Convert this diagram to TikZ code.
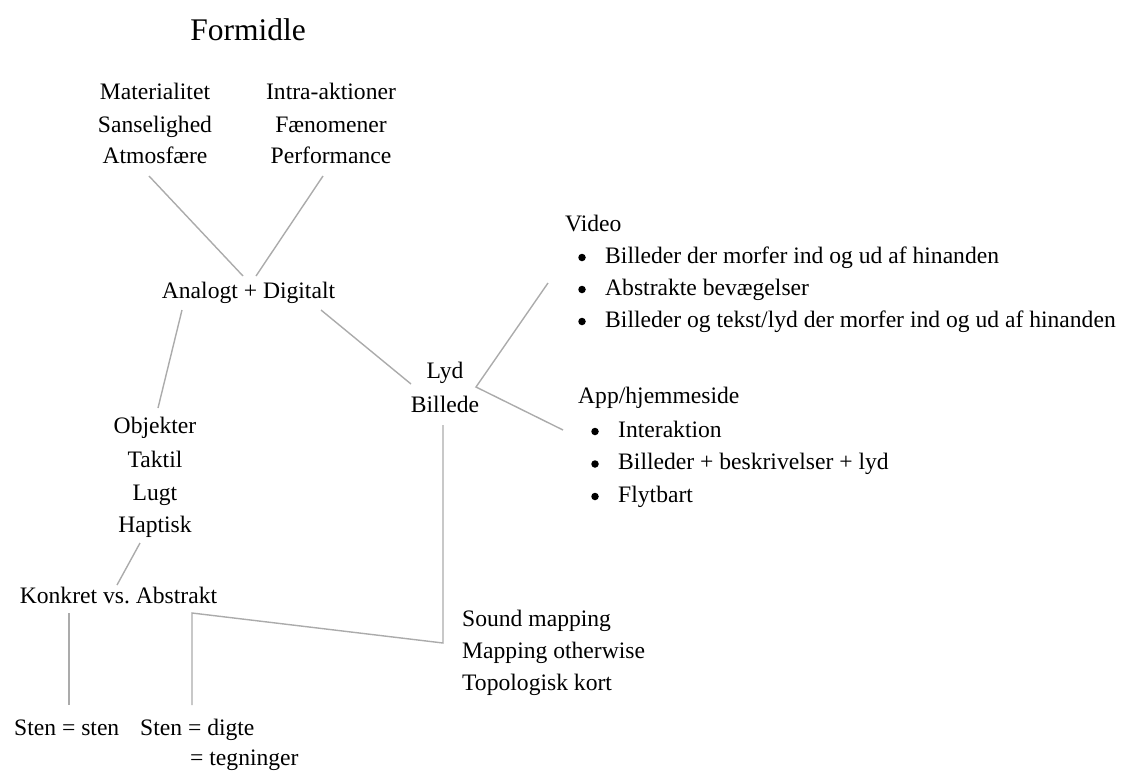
\documentclass[tikz,border=0pt]{standalone}
\usepackage{fontspec}
\setmainfont{Liberation Serif}
\frenchspacing
\begin{document}
\begin{tikzpicture}[x=1pt,y=-1pt,
  txt/.style={anchor=base,inner sep=0pt,font=\fontsize{23.6}{32}\selectfont},
  ltxt/.style={txt,anchor=base west},
  bigtxt/.style={txt,font=\fontsize{31.5}{36}\selectfont},
  dot/.style={circle,fill=black,inner sep=0pt,minimum size=7.5pt},
  link/.style={draw=black!33,line width=1.4pt}]
\useasboundingbox (0,0) rectangle (1126,774);
% title
\node[bigtxt] (title) at (248,40) {Formidle};
% top blocks
\node[txt] (m1) at (155,99) {Materialitet};
\node[txt] (m2) at (155,132) {Sanselighed};
\node[txt] (m3) at (155,163) {Atmosfære};
\node[txt] (i1) at (331,99) {Intra-aktioner};
\node[txt] (i2) at (331,132) {Fænomener};
\node[txt] (i3) at (331,163) {Performance};
% centre
\node[txt] (ad) at (248.5,298) {Analogt + Digitalt};
\node[txt] (lyd) at (445,378) {Lyd};
\node[txt] (bil) at (445,412) {Billede};
% left column
\node[txt] (o1) at (155,433) {Objekter};
\node[txt] (o2) at (155,467) {Taktil};
\node[txt] (o3) at (155,500) {Lugt};
\node[txt] (o4) at (155,532) {Haptisk};
\node[txt] (kon) at (118.5,603) {Konkret vs. Abstrakt};
\node[ltxt] (s1) at (14,735) {Sten = sten};
\node[ltxt] (s2) at (140,735) {Sten = digte};
\node[ltxt] (s3) at (190,765) {= tegninger};
% mapping
\node[ltxt] (sm1) at (462,626) {Sound mapping};
\node[ltxt] (sm2) at (462,658) {Mapping otherwise};
\node[ltxt] (sm3) at (462,690) {Topologisk kort};
% video
\node[ltxt] (vid) at (565,231) {Video};
\node[dot] (vb1) at (582,257.5) {};
\node[dot] (vb2) at (582,289.5) {};
\node[dot] (vb3) at (582,321.5) {};
\node[ltxt] (v1) at (605,263) {Billeder der morfer ind og ud af hinanden};
\node[ltxt] (v2) at (605,295) {Abstrakte bevægelser};
\node[ltxt] (v3) at (605,327) {Billeder og tekst/lyd der morfer ind og ud af hinanden};
% app
\node[ltxt] (app) at (578,403) {App/hjemmeside};
\node[dot] (ab1) at (595,431.5) {};
\node[dot] (ab2) at (595,464) {};
\node[dot] (ab3) at (595,496.5) {};
\node[ltxt] (a1) at (618,437) {Interaktion};
\node[ltxt] (a2) at (618,469.5) {Billeder + beskrivelser + lyd};
\node[ltxt] (a3) at (618,502) {Flytbart};
% connector end points
\coordinate (mEnd) at (149,176);
\coordinate (iEnd) at (323,176);
\coordinate (adL) at (243,276);
\coordinate (adR) at (256,276);
\coordinate (adBL) at (182,310);
\coordinate (oTop) at (158,408);
\coordinate (adBR) at (321,310);
\coordinate (lydL) at (411,384);
\coordinate (vidEnd) at (548,283);
\coordinate (lydR) at (476,387);
\coordinate (appEnd) at (563,430);
\coordinate (bilB) at (443,425);
\coordinate (smCorner) at (443,643);
\coordinate (absCorner) at (192,613);
\coordinate (s2Top) at (192,705);
\coordinate (hapB) at (140,543);
\coordinate (konT) at (117,585);
\coordinate (konB) at (69,613);
\coordinate (s1Top) at (69,705);
% connectors
\draw[link] (mEnd) -- (adL);
\draw[link] (iEnd) -- (adR);
\draw[link] (adBL) -- (oTop);
\draw[link] (adBR) -- (lydL);
\draw[link] (vidEnd) -- (lydR) -- (appEnd);
\draw[link] (bilB) -- (smCorner) -- (absCorner) -- (s2Top);
\draw[link] (hapB) -- (konT);
\draw[link] (konB) -- (s1Top);
\end{tikzpicture}
\end{document}
